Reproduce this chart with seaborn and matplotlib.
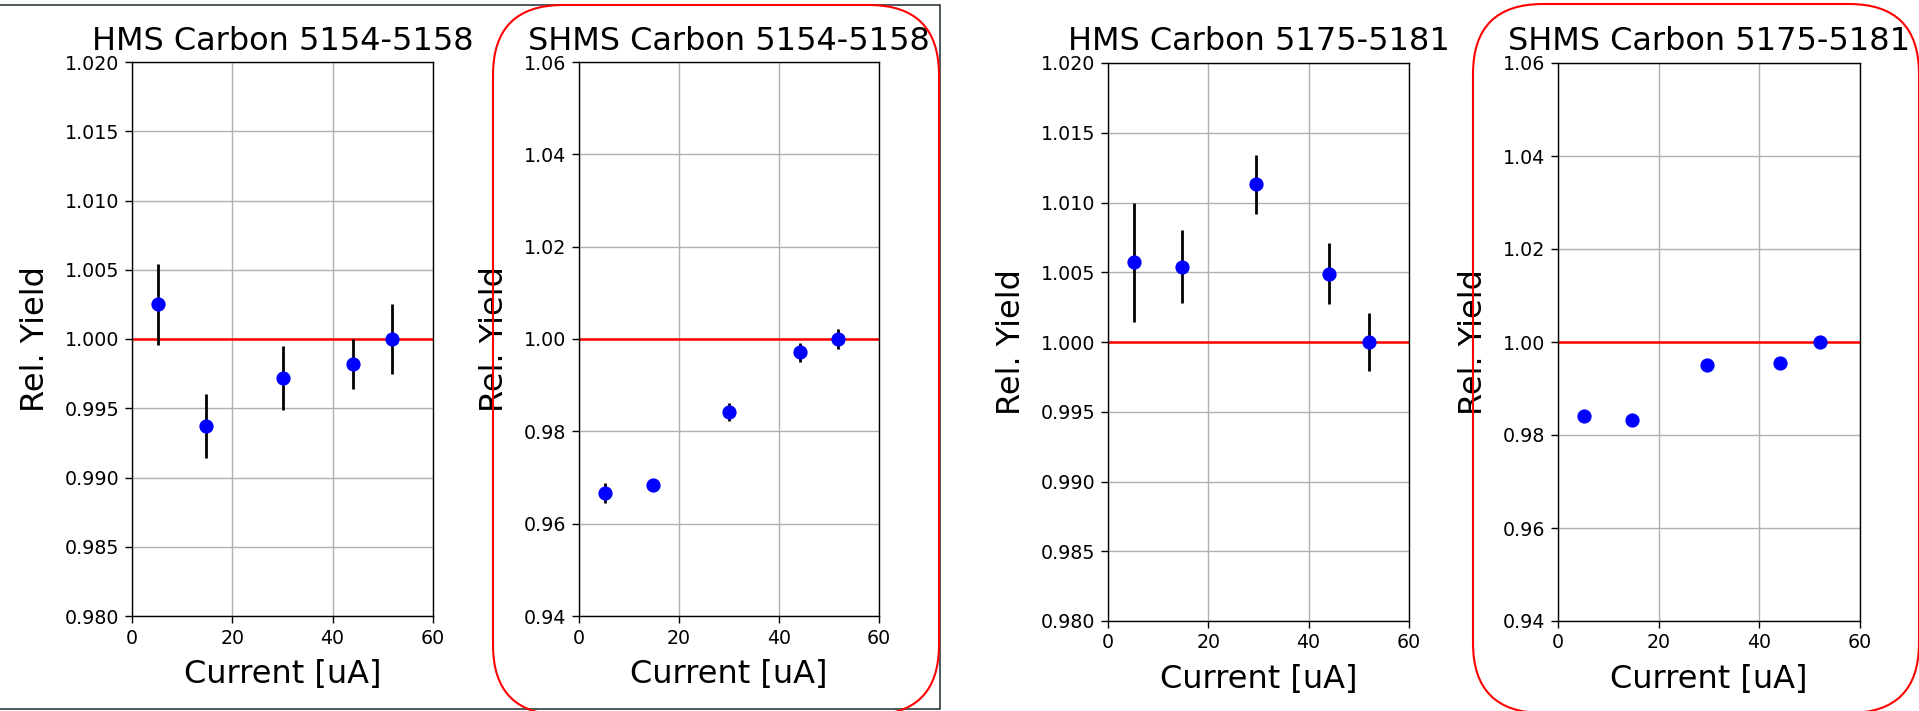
import numpy as np
import matplotlib
matplotlib.use("Agg")
import matplotlib.pyplot as plt
import seaborn as sns
from matplotlib.patches import FancyBboxPatch, Rectangle
from matplotlib.transforms import IdentityTransform
from matplotlib.ticker import FormatStrFormatter

# ---------------- data ----------------
current_a = [5.1, 14.8, 30.0, 44.1, 51.8]
hms_a_yield = [1.0025, 0.9937, 0.9972, 0.9982, 1.0000]
hms_a_err = [0.0029, 0.0023, 0.0023, 0.0018, 0.0025]
shms_a_yield = [0.9667, 0.9683, 0.9842, 0.9971, 1.0000]
shms_a_err = [0.0022, 0.0013, 0.0019, 0.0020, 0.0021]

current_b = [5.1, 14.8, 29.6, 44.1, 52.1]
hms_b_yield = [1.0057, 1.0054, 1.0113, 1.0049, 1.0000]
hms_b_err = [0.0043, 0.0026, 0.0021, 0.0022, 0.0021]
shms_b_yield = [0.9841, 0.9832, 0.9950, 0.9955, 1.0000]
shms_b_err = [0.0005, 0.0005, 0.0005, 0.0005, 0.0005]

titles = ["HMS Carbon 5154-5158", "SHMS Carbon 5154-5158",
          "HMS Carbon 5175-5181", "SHMS Carbon 5175-5181"]
hms_ticks = [0.980, 0.985, 0.990, 0.995, 1.000, 1.005, 1.010, 1.015, 1.020]
shms_ticks = [0.94, 0.96, 0.98, 1.00, 1.02, 1.04, 1.06]
x_ticks = [0, 20, 40, 60]
xlabel = "Current [uA]"
ylabel = "Rel. Yield"

# ---------------- figure ----------------
W, H = 1919, 711
DPI = 100
plt.rcParams["font.family"] = ["DejaVu Sans"]
fig = plt.figure(figsize=(W / DPI, H / DPI), dpi=DPI)
fig.patch.set_facecolor("white")

# axes boxes in pixels: left, right, top, bottom
boxes = [(132, 433, 62, 616), (579, 879, 62, 616),
         (1108, 1409, 63, 621), (1558, 1860, 63, 621)]

panels = [
    (current_a, hms_a_yield, hms_a_err, hms_ticks, "%.3f"),
    (current_a, shms_a_yield, shms_a_err, shms_ticks, "%.2f"),
    (current_b, hms_b_yield, hms_b_err, hms_ticks, "%.3f"),
    (current_b, shms_b_yield, shms_b_err, shms_ticks, "%.2f"),
]

for (l, r, t, b), (xs, ys, es, yt, fmt), title in zip(boxes, panels, titles):
    ax = fig.add_axes([l / W, 1 - b / H, (r - l) / W, (b - t) / H])
    ax.set_facecolor("white")
    ax.grid(True, color="#b0b0b0", lw=1.0, zorder=0)
    ax.set_axisbelow(True)
    ax.axhline(1.0, color="red", lw=1.8, zorder=2)
    ax.errorbar(xs, ys, yerr=es, fmt="none", ecolor="black",
                elinewidth=2.0, capsize=0, zorder=3)
    sns.scatterplot(x=xs, y=ys, ax=ax, color="blue", s=105,
                    linewidth=0, zorder=4)
    ax.set_xlim(0, 60)
    ax.set_ylim(yt[0], yt[-1])
    ax.set_xticks(x_ticks)
    ax.set_yticks(yt)
    ax.yaxis.set_major_formatter(FormatStrFormatter(fmt))
    ax.tick_params(axis="both", labelsize=13.7, colors="black",
                   direction="out", length=5, width=1, pad=4)
    for s in ax.spines.values():
        s.set_color("black")
        s.set_linewidth(1.0)
    ax.set_title(title, fontsize=23, pad=9)
    ax.set_xlabel(xlabel, fontsize=23, labelpad=8)
    ax.set_ylabel(ylabel, fontsize=23, labelpad=10)

# screenshot frame around left image
tr = IdentityTransform()
frame = Rectangle((-3, H - 709), 943, 704, transform=tr, fill=False,
                  edgecolor="#1f2b30", lw=1.1, clip_on=False)
fig.patches.append(frame)

# red rounded highlight boxes
for (x0, y0, x1, y1) in [(493, 5, 939, 715), (1473, 4, 1919, 713)]:
    p = FancyBboxPatch((x0, H - y1), x1 - x0, y1 - y0,
                       boxstyle="round,pad=0,rounding_size=70",
                       transform=tr, fill=False, edgecolor="red",
                       lw=1.5, clip_on=False)
    fig.patches.append(p)

fig.savefig("out.png", dpi=DPI, facecolor="white")
